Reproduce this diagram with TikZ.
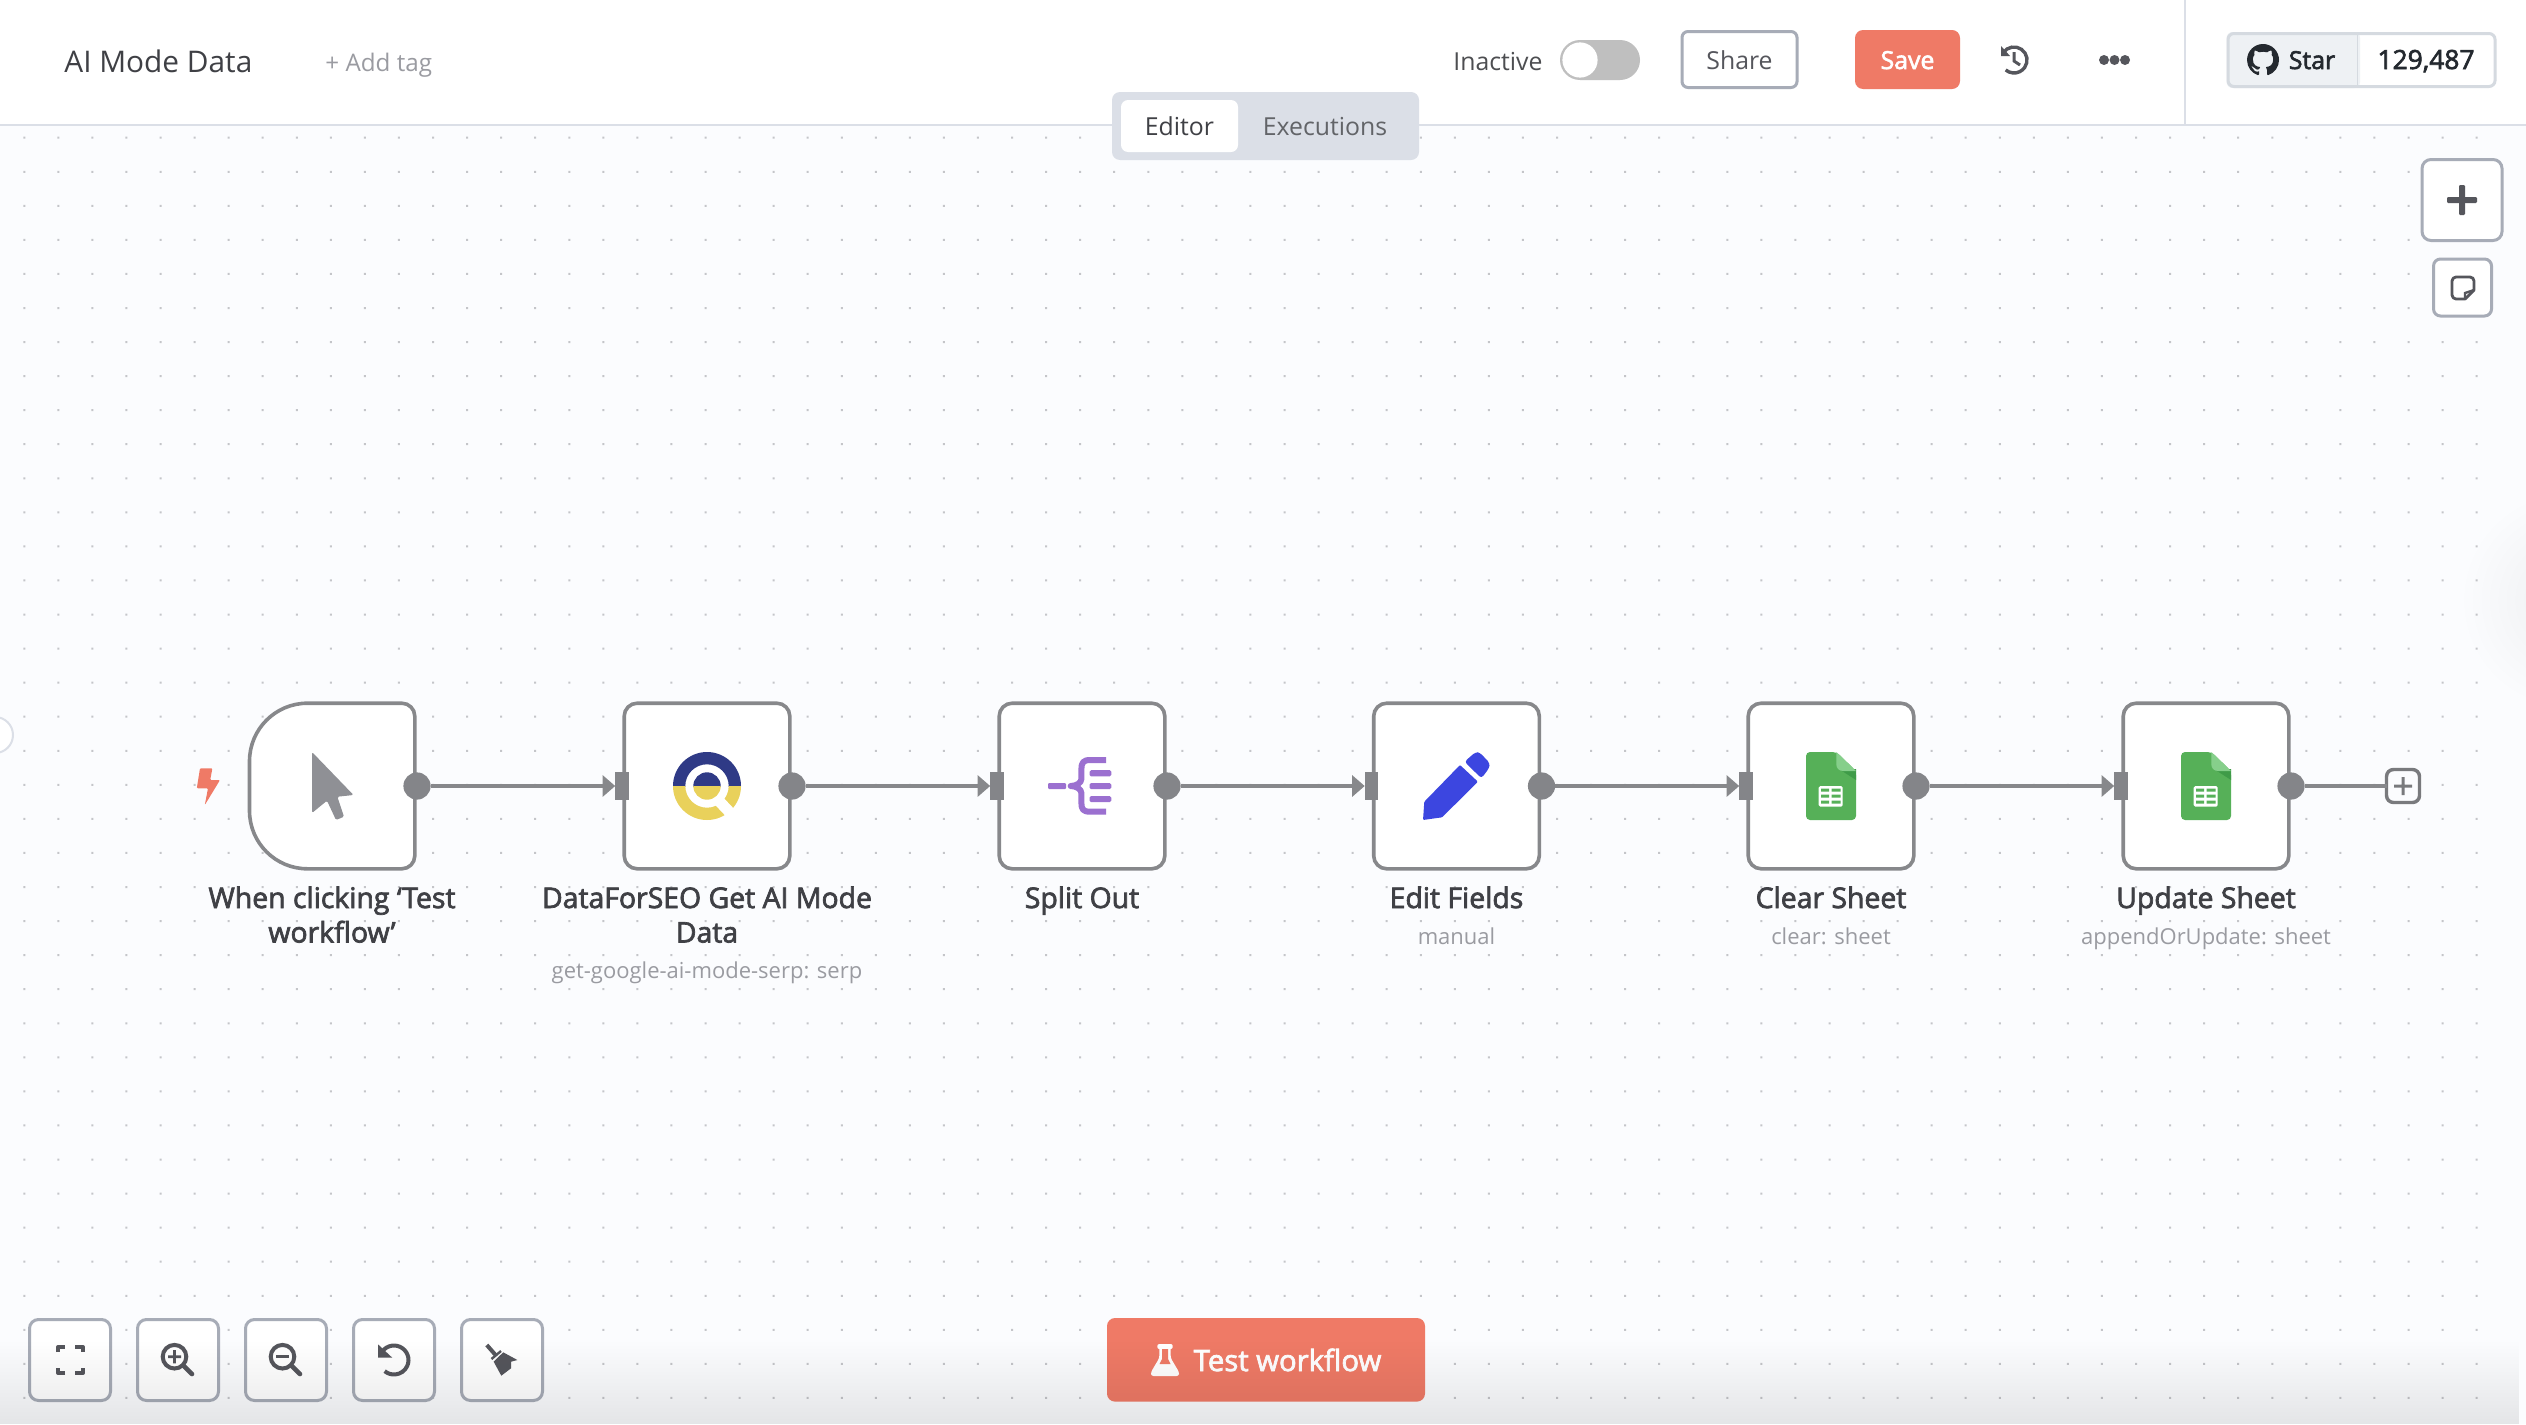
\documentclass[tikz,border=0pt]{standalone}
\usepackage{fontspec}
\setmainfont{Open Sans}
\newfontfamily\semifont[FakeBold=2.5]{Open Sans}
\usetikzlibrary{arrows.meta,calc,fadings,svg.path}
\definecolor{canvasbg}{HTML}{FBFCFE}
\definecolor{rulecol}{HTML}{DBDFE7}
\definecolor{griddot}{HTML}{C4C5C9}
\definecolor{nodeedge}{HTML}{87888B}
\definecolor{portcol}{HTML}{848589}
\definecolor{darktext}{HTML}{3F4045}
\definecolor{midtext}{HTML}{55565C}
\definecolor{softtext}{HTML}{9A9BA1}
\definecolor{btnedge}{HTML}{A7ACB7}
\definecolor{coral}{HTML}{EF7A66}
\definecolor{cursorgrey}{HTML}{8F9095}
\definecolor{qnavy}{HTML}{2F3A86}
\definecolor{qyellow}{HTML}{E9D15B}
\definecolor{splitpurple}{HTML}{9B70D0}
\definecolor{penblue}{HTML}{3C46E0}
\definecolor{sheetgreen}{HTML}{56B058}
\definecolor{sheetlight}{HTML}{86CF8B}
\definecolor{sheetdark}{HTML}{3F9B48}
\definecolor{starbg}{HTML}{EEF1F4}
\definecolor{staredge}{HTML}{D5DAE0}
\definecolor{starink}{HTML}{24292F}
\tikzfading[name=softblob,inner color=transparent!0,outer color=transparent!100]
\tikzset{
  wfnode/.style={draw=nodeedge,line width=1.8pt,fill=white,rounded corners=6.5pt,minimum size=82.8pt,inner sep=0pt,outer sep=0pt},
  ghostnode/.style={minimum size=82.8pt,inner sep=0pt,outer sep=0pt},
  outport/.style={circle,fill=portcol,minimum size=13.6pt,inner sep=0pt,outer sep=0pt},
  inport/.style={rectangle,fill=portcol,minimum width=6.8pt,minimum height=13.6pt,inner sep=0pt,outer sep=0pt},
  wire/.style={draw=nodeedge,line width=2pt,-{Triangle[length=6.3pt,width=10.5pt]}},
  plainwire/.style={draw=nodeedge,line width=2pt},
  nodelabel/.style={anchor=base,text=darktext,font=\semifont\fontsize{14.2pt}{17pt}\selectfont,align=center,inner sep=0pt},
  subtext/.style={anchor=base,text=softtext,font=\fontsize{11pt}{14pt}\selectfont,inner sep=0pt},
  uibtn/.style={draw=btnedge,line width=1.5pt,fill=white,rounded corners=4.5pt,inner sep=0pt,outer sep=0pt},
  ink/.style={draw=midtext,line width=2pt},
  toptext/.style={anchor=base,inner sep=0pt},
}
\begin{document}
\begin{tikzpicture}[x=0.5pt,y=-0.5pt]
\useasboundingbox (0,0) rectangle (2526,1424);
% canvas
\fill[canvasbg] (0,0) rectangle (2526,1424);
\fill[griddot] \foreach \i in {0,...,72}{\foreach \j in {0,...,37}{(\i*34.06+23.3,\j*34.06+136.7) rectangle ++(2,2)}};
% side glow and edge tab
\fill[black,fill opacity=0.05,path fading=softblob] (2570,600) circle[radius=55pt];
\node[circle,draw=rulecol,line width=1pt,fill=white,minimum size=18pt,inner sep=0pt,outer sep=0pt] (edgetab) at (-5,735) {};
% header
\fill[white] (0,0) rectangle (2526,124);
\fill[rulecol] (0,124) rectangle (2526,126);
\fill[rulecol] (2184.2,0) rectangle (2185.8,124);
\node[toptext,text=darktext,font=\fontsize{14.9pt}{18pt}\selectfont,anchor=base west] (title) at (64,72) {AI Mode Data};
\node[toptext,text=softtext,font=\fontsize{12.1pt}{14pt}\selectfont,anchor=base west] (addtag) at (325,71) {+ Add tag};
% tabs
\node[fill=rulecol,rounded corners=4pt,minimum width=153.5pt,minimum height=34pt,inner sep=0pt] (tabs) at (1265.5,126) {};
\node[fill=white,rounded corners=3.5pt,minimum width=58.5pt,minimum height=26pt,inner sep=0pt] (editortab) at (1179.5,126) {};
\node[toptext,text=darktext,font=\fontsize{12.4pt}{14pt}\selectfont] (editortxt) at (1179.5,135) {Editor};
\node[toptext,text=black!55!rulecol,font=\fontsize{12.4pt}{14pt}\selectfont] (exectxt) at (1325,135) {Executions};
% toolbar
\node[toptext,text=black!50!softtext,font=\fontsize{12.4pt}{14pt}\selectfont,anchor=base west] (inactive) at (1453,70) {Inactive};
\fill[black!25!white,rounded corners=10pt] (1560,40) rectangle (1640,80);
\fill[white] (1580,60) circle[radius=8.8pt];
\node[uibtn,draw=btnedge,minimum width=57.5pt,minimum height=28pt,rounded corners=3pt] (share) at (1739.5,59.5) {};
\node[toptext,text=midtext,font=\fontsize{12.4pt}{14pt}\selectfont] at (1739.5,69) {Share};
\node[fill=coral,rounded corners=4pt,minimum width=52.5pt,minimum height=29.5pt,inner sep=0pt] (save) at (1907.5,59.5) {};
\node[toptext,text=white,font=\semifont\fontsize{12.4pt}{14pt}\selectfont] at (1907.5,69) {Save};
% history icon
\draw[midtext,line width=1.7pt] (2014,60) ++(215:13) arc[start angle=215,end angle=490,radius=13];
\fill[midtext] (2001,46) -- (2001,56) -- (2010,56) -- cycle;
\draw[midtext,line width=1.5pt] (2014,52) -- (2014,61) -- (2020,65);
% more dots
\fill[midtext] (2104,60) circle[radius=2.5pt] (2114.5,60) circle[radius=2.5pt] (2125,60) circle[radius=2.5pt];
% github star
\fill[starbg,rounded corners=3pt] (2226.5,32) rectangle (2360,88);
\draw[staredge,line width=1.5pt,rounded corners=3pt] (2228,33.5) rectangle (2495,86.5);
\fill[staredge] (2356.5,33) rectangle (2358,87);
\begin{scope}[shift={(2247,44)},yscale=-1]
\fill[starink,even odd rule] svg "M 8 0 C 3.58 0 0 3.58 0 8 c 0 3.54 2.29 6.53 5.47 7.59 c .4 .07 .55 -.17 .55 -.38 c 0 -.19 -.01 -.82 -.01 -1.49 c -2.01 .37 -2.53 -.49 -2.69 -.94 c -.09 -.23 -.48 -.94 -.82 -1.13 c -.28 -.15 -.68 -.52 -.01 -.53 c .63 -.01 1.08 .58 1.23 .82 c .72 1.21 1.87 .87 2.33 .66 c .07 -.52 .28 -.87 .51 -1.07 c -1.78 -.2 -3.64 -.89 -3.64 -3.95 c 0 -.87 .31 -1.59 .82 -2.15 c -.08 -.2 -.36 -1.02 .08 -2.12 c 0 0 .67 -.21 2.2 .82 c .64 -.18 1.32 -.27 2 -.27 c .68 0 1.36 .09 2 .27 c 1.53 -1.04 2.2 -.82 2.2 -.82 c .44 1.1 .16 1.92 .08 2.12 c .51 .56 .82 1.27 .82 2.15 c 0 3.07 -1.87 3.75 -3.65 3.95 c .29 .25 .54 .73 .54 1.48 c 0 1.07 -.01 1.93 -.01 2.2 c 0 .21 .15 .46 .55 .38 C 13.71 14.53 16 11.53 16 8 c 0 -4.42 -3.58 -8 -8 -8 z";
\end{scope}
\node[toptext,text=starink,font=\semifont\fontsize{12.4pt}{14pt}\selectfont] at (2312,69) {Star};
\node[toptext,text=starink,font=\semifont\fontsize{13.2pt}{14pt}\selectfont] at (2426,69) {129,487};
% side buttons
\node[uibtn,minimum width=40pt,minimum height=40.5pt] (addbtn) at (2462,200) {};
\fill[midtext,rounded corners=0.6pt] (2459,185) rectangle (2465,215);
\fill[midtext,rounded corners=0.6pt] (2447,197) rectangle (2477,203);
\node[uibtn,minimum width=29pt,minimum height=28.5pt,rounded corners=3.5pt] (notebtn) at (2462.5,287.5) {};
\draw[midtext,line width=1.4pt,line join=round] (2474,290) -- (2474,281) arc[start angle=0,end angle=-90,radius=4] -- (2456,277) arc[start angle=270,end angle=180,radius=4] -- (2452,295) arc[start angle=180,end angle=90,radius=4] -- (2465,299) -- cycle;
\draw[midtext,line width=1.2pt] (2465,299) -- (2465,293) -- (2474,290);
% workflow nodes
\node[ghostnode] (trigger) at (332,786) {};
\draw[draw=nodeedge,line width=1.8pt,fill=white] (307.5,703.2) -- (401.8,703.2) arc[start angle=270,end angle=360,radius=13] -- (414.8,855.8) arc[start angle=0,end angle=90,radius=13] -- (307.5,868.8) arc[start angle=90,end angle=180,radius=58] -- (249.5,761.2) arc[start angle=180,end angle=270,radius=58] -- cycle;
\node[wfnode] (seo) at (707,786) {};
\node[wfnode] (split) at (1082,786) {};
\node[wfnode] (edit) at (1456.5,786) {};
\node[wfnode] (clear) at (1831,786) {};
\node[wfnode] (update) at (2206,786) {};
% ports
\node[outport] (o1) at (417,786) {};
\node[outport] (o2) at (792,786) {};
\node[outport] (o3) at (1167,786) {};
\node[outport] (o4) at (1541.5,786) {};
\node[outport] (o5) at (1916,786) {};
\node[outport] (o6) at (2291,786) {};
\node[inport] (i2) at (622,786) {};
\node[inport] (i3) at (997,786) {};
\node[inport] (i4) at (1371.5,786) {};
\node[inport] (i5) at (1746,786) {};
\node[inport] (i6) at (2121,786) {};
\draw[wire] (o1) -- (i2);
\draw[wire] (o2) -- (i3);
\draw[wire] (o3) -- (i4);
\draw[wire] (o4) -- (i5);
\draw[wire] (o5) -- (i6);
\node[draw=nodeedge!90!black,line width=1.7pt,fill=canvasbg,rounded corners=3.5pt,minimum size=16.5pt,inner sep=0pt,outer sep=0pt] (addend) at (2403,786) {};
\draw[plainwire] (o6) -- (addend);
\fill[nodeedge!90!black] (2401.5,777) rectangle (2404.5,795) (2394,784.5) rectangle (2412,787.5);
% lightning
\fill[coral,rounded corners=0.5pt] (200,768.3) -- (212.4,768.3) -- (210.2,780) -- (220,780) -- (204.8,805) -- (208,788.3) -- (196.8,788.3) -- cycle;
% cursor
\fill[cursorgrey,rounded corners=0.7pt] (312,752) -- (353.5,795) -- (337.4,796.7) -- (344,816.7) -- (336,820) -- (327,800.7) -- (312,813) -- cycle;
% Q logo
\begin{scope}
\clip (660,740) rectangle (754,786);
\fill[qnavy,even odd rule] (707,786) circle[radius=17pt] (707,786) circle[radius=10.85pt];
\fill[qnavy] (707,786) circle[radius=6.85pt];
\end{scope}
\begin{scope}
\clip (660,786) rectangle (754,830);
\fill[qyellow,even odd rule] (707,786) circle[radius=17pt] (707,786) circle[radius=10.85pt];
\fill[qyellow] (707,786) circle[radius=6.85pt];
\end{scope}
\draw[white,line width=5.5pt] (719,801) -- (737,820);
% split out
\fill[splitpurple,rounded corners=0.6pt] (1048,783) rectangle (1066,789.2);
\draw[splitpurple,line width=3pt,line join=round] (1106,760) -- (1090,760) .. controls (1083,760) and (1081.4,763) .. (1081.4,769) -- (1081.4,779) .. controls (1081.4,783) and (1076,786) .. (1070.7,786) .. controls (1076,786) and (1081.4,789) .. (1081.4,793) -- (1081.4,803) .. controls (1081.4,809) and (1083,811.7) .. (1090,811.7) -- (1106,811.7);
\fill[splitpurple,rounded corners=0.8pt] (1089.5,770.2) rectangle (1111.3,776.4) (1089.5,783) rectangle (1111.3,789.2) (1089.5,796) rectangle (1111.3,802.2);
% pencil
\fill[penblue,rounded corners=0.5pt] (1424.3,801.7) -- (1460,765) -- (1477.9,781.7) -- (1442.1,817.3) -- (1423,820) -- cycle;
\fill[penblue,rounded corners=1.5pt] (1464.5,761.7) -- (1475.6,752) -- (1480,752.7) -- (1489.9,763.3) -- (1489,768.3) -- (1481.4,778.3) -- cycle;
% sheet icons
\foreach \cx in {1831,2206}{
  \begin{scope}[shift={(\cx,0)}]
  \fill[sheetgreen,rounded corners=2pt] (-25,752) -- (5.4,752) -- (25,771) -- (25,820) -- (-25,820) -- cycle;
  \fill[sheetdark] (8,769) -- (25,769) -- (25,780) -- cycle;
  \fill[sheetlight] (5.4,752) -- (25,771) -- (12,771) .. controls (8,771) and (5.4,768) .. (5.4,765) -- cycle;
  \fill[white,rounded corners=0.8pt] (-12.3,786) rectangle (11.7,806.7);
  \fill[sheetgreen] (-10,788.7) rectangle (-2,791.7) (0.5,788.7) rectangle (9.5,791.7)
                    (-10,794.7) rectangle (-2,797.7) (0.5,794.7) rectangle (9.5,797.7)
                    (-10,800.7) rectangle (-2,803.7) (0.5,800.7) rectangle (9.5,803.7);
  \end{scope}
}
% labels
\node[nodelabel] (lab1a) at (332,908) {When clicking ‘Test};
\node[nodelabel] (lab1b) at (332,942.5) {workflow’};
\node[nodelabel] (lab2a) at (707,908) {DataForSEO Get AI Mode};
\node[nodelabel] (lab2b) at (707,942.5) {Data};
\node[subtext] (sub2) at (707,978) {get-google-ai-mode-serp: serp};
\node[nodelabel] (lab3) at (1082,908) {Split Out};
\node[nodelabel] (lab4) at (1456.5,908) {Edit Fields};
\node[subtext] (sub4) at (1456.5,944) {manual};
\node[nodelabel] (lab5) at (1831,908) {Clear Sheet};
\node[subtext] (sub5) at (1831,944) {clear: sheet};
\node[nodelabel] (lab6) at (2206,908) {Update Sheet};
\node[subtext] (sub6) at (2206,944) {appendOrUpdate: sheet};
% bottom buttons
\node[uibtn,minimum width=40.5pt,minimum height=40.5pt] (fitbtn) at (70,1360) {};
\node[uibtn,minimum width=40.5pt,minimum height=40.5pt] (zoominbtn) at (178,1360) {};
\node[uibtn,minimum width=40.5pt,minimum height=40.5pt] (zoomoutbtn) at (286,1360) {};
\node[uibtn,minimum width=40.5pt,minimum height=40.5pt] (resetbtn) at (394,1360) {};
\node[uibtn,minimum width=40.5pt,minimum height=40.5pt] (cleanbtn) at (502,1360) {};
% fit icon
\draw[ink,line join=round] (58,1352) -- (58,1347) -- (65,1347) (75,1347) -- (83,1347) -- (83,1352) (83,1368) -- (83,1373) -- (75,1373) (65,1373) -- (58,1373) -- (58,1368);
% zoom in
\draw[ink] (174.5,1356.7) circle[radius=5.9pt];
\draw[midtext,line width=2.3pt,line cap=round] (184,1366) -- (192,1374);
\fill[midtext] (173.2,1350) rectangle (175.8,1363.4) (168,1355.4) rectangle (181,1358);
% zoom out
\draw[ink] (282.5,1356.7) circle[radius=5.9pt];
\draw[midtext,line width=2.3pt,line cap=round] (292,1366) -- (300,1374);
\fill[midtext] (276,1355.4) rectangle (289,1358);
% reset
\draw[ink] (394,1360) ++(205:14.5) arc[start angle=205,end angle=490,radius=14.5];
\fill[midtext] (378,1344.3) -- (378,1357.7) -- (392.3,1357.7) -- cycle;
% broom
\draw[midtext,line width=2pt] (486.8,1345) -- (496,1355.5);
\draw[midtext,line width=1.2pt] (491.5,1359) -- (501,1351);
\fill[midtext] (493.7,1361.7) -- (503.2,1352.3) -- (517.4,1360) -- (511,1361.7) -- (511,1368.3) -- (501.3,1375.7) -- cycle;
% test workflow
\node[fill=coral,rounded corners=4pt,minimum width=159pt,minimum height=41.8pt,inner sep=0pt] (testbtn) at (1266,1359.8) {};
\fill[white,rounded corners=1pt] (1157.3,1344) rectangle (1172.7,1349);
\fill[white,rounded corners=1.2pt] (1159.3,1346) -- (1170.7,1346) -- (1170.7,1358) -- (1179,1372) -- (1179,1376) -- (1151,1376) -- (1151,1372) -- (1159.3,1358) -- cycle;
\fill[coral] (1162,1349) -- (1168,1349) -- (1168,1359) -- (1170.5,1364) -- (1159.5,1364) -- (1162,1359) -- cycle;
\node[toptext,text=white,font=\semifont\fontsize{14.65pt}{17pt}\selectfont,anchor=base] (testtxt) at (1287.5,1371) {Test workflow};
% bottom shade
\fill[black,fill opacity=0.09,path fading=north] (0,1340) rectangle (2526,1424);
\end{tikzpicture}
\end{document}
